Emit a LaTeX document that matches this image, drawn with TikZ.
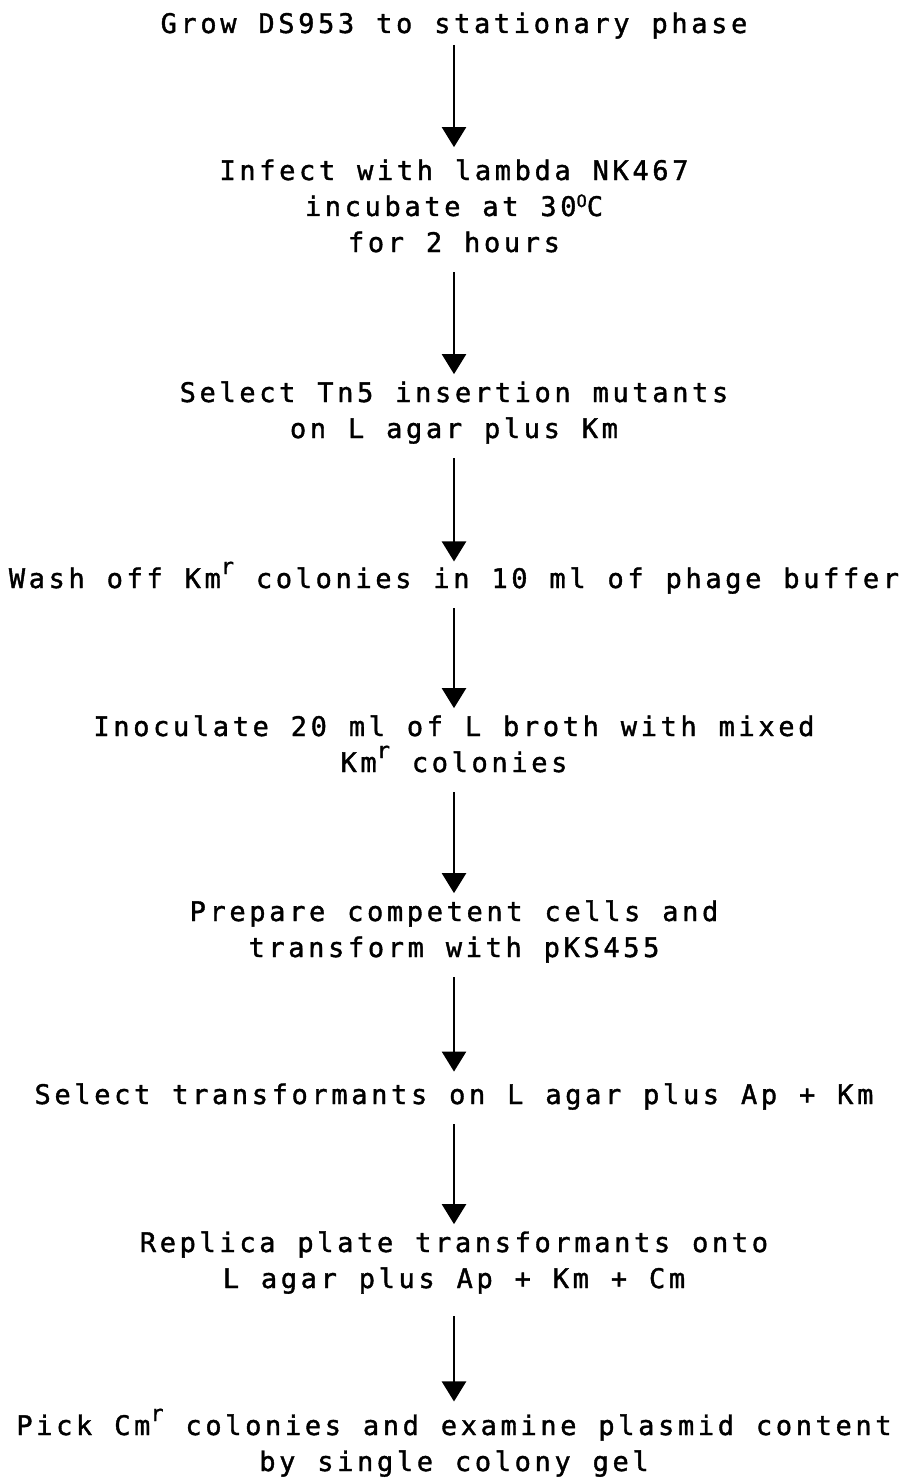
\documentclass[tikz,border=0pt]{standalone}
\usepackage{fontspec}
\setmonofont[LetterSpace=13.5,WordSpace=1.1,FakeBold=1.4]{DejaVu Sans Mono}
\usetikzlibrary{arrows.meta}
% raised letters, as typed on the original
\newcommand\supr[1]{\raisebox{14pt}{\fontsize{22}{22}\selectfont #1}}
\newcommand\supo[1]{\raisebox{9pt}{\fontsize{17}{17}\selectfont #1}}
\tikzset{
  flow/.style={-{Triangle[length=20pt,width=24pt]}, line width=2.4pt,
    shorten <=9pt, shorten >=7pt},
  stage/.style={align=center, inner sep=0pt, anchor=base,
    font=\ttfamily\fontsize{27}{36}\selectfont,
    execute at begin node=\strut, execute at end node=\strut},
}
\begin{document}
\begin{tikzpicture}[x=1pt,y=-1pt]
  \useasboundingbox (0,0) rectangle (908,1479);
  % base = last line of each stage
  \node[stage] (grow)    at (454,33)   {Grow DS953 to stationary phase};
  \node[stage] (infect)  at (454,252)  {Infect with lambda NK467\\incubate at 30\supo{O}C\\for 2 hours};
  \node[stage] (select)  at (454,438)  {Select Tn5 insertion mutants\\on L agar plus Km};
  \node[stage] (wash)    at (454,588)  {Wash off Km\supr{r} colonies in 10 ml of phage buffer};
  \node[stage] (inoc)    at (454,772)  {Inoculate 20 ml of L broth with mixed\\Km\supr{r} colonies};
  \node[stage] (prep)    at (454,957)  {Prepare competent cells and\\transform with pKS455};
  \node[stage] (trans)   at (454,1104) {Select transformants on L agar plus Ap + Km};
  \node[stage] (replica) at (454,1288) {Replica plate transformants onto\\L agar plus Ap + Km + Cm};
  \node[stage] (pick)    at (454,1471) {Pick Cm\supr{r} colonies and examine plasmid content\\by single colony gel};
  \draw[flow, shorten <=1pt, shorten >=12pt] (grow) -- (infect);
  \draw[flow] (infect) -- (select);
  \draw[flow, shorten >=0pt] (select) -- (wash);
  \draw[flow] (wash) -- (inoc);
  \draw[flow] (inoc) -- (prep);
  \draw[flow] (prep) -- (trans);
  \draw[flow] (trans) -- (replica);
  \draw[flow, shorten <=17pt] (replica) -- (pick);
\end{tikzpicture}
\end{document}
